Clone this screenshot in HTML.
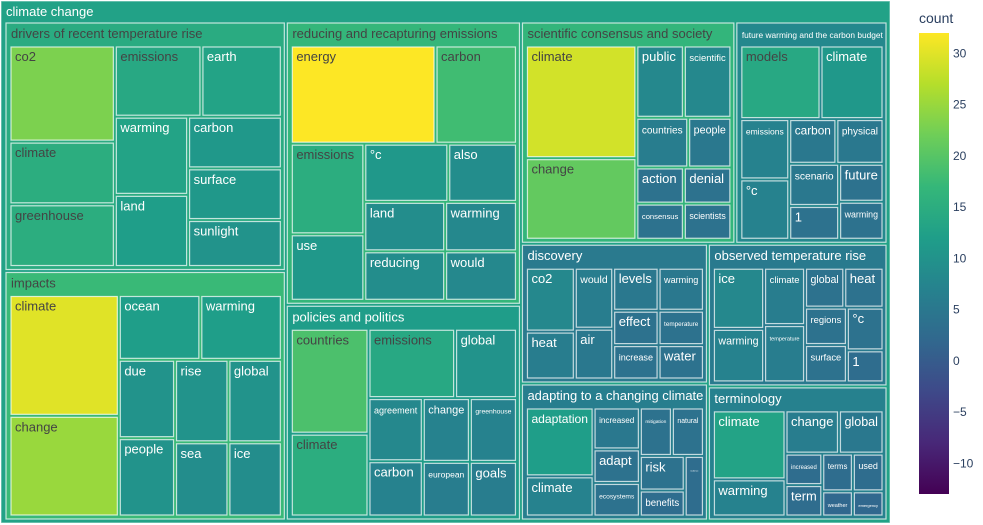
<!DOCTYPE html>
<html>
<head>
<meta charset="utf-8">
<style>
  html,body{margin:0;padding:0;background:#fff;}
  svg{display:block;font-family:"Liberation Sans",sans-serif;}
</style>
</head>
<body>
<svg id="chart" width="983" height="525" viewBox="0 0 983 525">
  <g id="tiles"></g>
  <g id="colorbar"></g>
</svg>
<script>
// ---- data ----
const rootLabel = "climate change";
const sectorLabels = [
  "drivers of recent temperature rise",
  "impacts",
  "reducing and recapturing emissions",
  "policies and politics",
  "scientific consensus and society",
  "future warming and the carbon budget",
  "discovery",
  "adapting to a changing climate",
  "observed temperature rise",
  "terminology"
];
const driversWords = ["co2","climate","greenhouse","emissions","earth","warming","land","carbon","surface","sunlight"];
const driversCounts = [23,15,15,14,13,13,12,11,11,10];
const impactsWords = ["climate","change","ocean","warming","due","people","rise","global","sea","ice"];
const impactsCounts = [30,25,12,12,10,10,10,10,9,9];
const reducingWords = ["energy","carbon","emissions","use","°c","also","land","reducing","warming","would"];
const reducingCounts = [32,18,15,11,11,9,9,9,8,8];
const policiesWords = ["countries","climate","emissions","global","agreement","carbon","change","greenhouse","european","goals"];
const policiesCounts = [19,15,14,10,8,7,7,7,6,6];
const scientificWords = ["climate","change","public","scientific","countries","people","action","consensus","denial","scientists"];
const scientificCounts = [29,21,8,8,6,5,4,4,4,4];
const futureWords = ["models","climate","emissions","°c","carbon","physical","scenario","1","future","warming"];
const futureCounts = [14,11,7,7,5,5,5,4,4,4];
const discoveryWords = ["co2","heat","would","air","levels","warming","effect","increase","temperature","water"];
const discoveryCounts = [8,6,6,5,5,5,4,4,4,4];
const adaptingWords = ["adaptation","climate","increased","adapt","ecosystems","mitigation","natural","risk","benefits","resilience"];
const adaptingCounts = [12,7,5,4,4,4,4,4,3,3];
const observedWords = ["ice","warming","climate","temperature","global","heat","regions","surface","°c","1"];
const observedCounts = [8,7,6,6,4,4,4,4,4,3];
const terminologyWords = ["climate","warming","change","global","increased","term","terms","used","weather","emergency"];
const terminologyCounts = [13,7,6,5,3,3,3,3,2,2];
const colorbarTicks = [30,25,20,15,10,5,0,-5,-10];

const sectorWords = [driversWords,impactsWords,reducingWords,policiesWords,scientificWords,futureWords,discoveryWords,adaptingWords,observedWords,terminologyWords];
const sectorCounts = [driversCounts,impactsCounts,reducingCounts,policiesCounts,scientificCounts,futureCounts,discoveryCounts,adaptingCounts,observedCounts,terminologyCounts];

// ---- scales ----
const cmin = -13, cmax = 32;
const viridis = ["#440154","#482878","#3e4989","#31688e","#26828e","#1f9e89","#35b779","#6ece58","#b5de2b","#fde725"];
function hexRgb(h){return [parseInt(h.slice(1,3),16),parseInt(h.slice(3,5),16),parseInt(h.slice(5,7),16)];}
function colorRgb(v){
  let t=(v-cmin)/(cmax-cmin); t=Math.max(0,Math.min(1,t));
  const s=t*(viridis.length-1); const i=Math.min(Math.floor(s),viridis.length-2); const f=s-i;
  const a=hexRgb(viridis[i]), b=hexRgb(viridis[i+1]);
  return [0,1,2].map(k=>Math.round(a[k]+(b[k]-a[k])*f));
}
function rgbStr(c){return "rgb("+c.join(",")+")";}
function textColor(c){const br=(c[0]*299+c[1]*587+c[2]*114)/1000;return br>=125?"#444":"#fff";}

// ---- build hierarchy ----
const root = {label:rootLabel, depth:0, children:[]};
sectorLabels.forEach((s,i)=>{
  const node={label:s, depth:1, children:[]};
  sectorWords[i].forEach((w,j)=>{ node.children.push({label:w, depth:2, value:sectorCounts[i][j], color:sectorCounts[i][j]}); });
  root.children.push(node);
});
function finalize(n){
  if(n.children){
    n.children.forEach(finalize);
    n.value=n.children.reduce((a,c)=>a+c.value,0);
    n.color=n.children.reduce((a,c)=>a+c.value*c.color,0)/n.value;
    n.children=n.children.map((c,i)=>({c,i})).sort((a,b)=>(b.c.value-a.c.value)||(a.i-b.i)).map(o=>o.c);
  }
}
finalize(root);

// ---- squarified layout (d3 style, ratio 1) ----
function dice(nodes,total,x0,y0,x1,y1){let k=total?(x1-x0)/total:0;for(const n of nodes){n.y0=y0;n.y1=y1;n.x0=x0;n.x1=x0+=n.value*k;}}
function slice(nodes,total,x0,y0,x1,y1){let k=total?(y1-y0)/total:0;for(const n of nodes){n.x0=x0;n.x1=x1;n.y0=y0;n.y1=y0+=n.value*k;}}
function squarify(parent,x0,y0,x1,y1){
  const nodes=parent.children; let value=parent.value, i0=0, i1=0, n=nodes.length;
  while(i0<n){
    const dx=x1-x0, dy=y1-y0;
    let sum=nodes[i1++].value, minV=sum, maxV=sum;
    const alpha=Math.max(dy/dx,dx/dy)/(value*1);
    let beta=sum*sum*alpha, minRatio=Math.max(maxV/beta,beta/minV);
    for(;i1<n;++i1){
      const nv=nodes[i1].value; sum+=nv;
      if(nv<minV)minV=nv; if(nv>maxV)maxV=nv;
      beta=sum*sum*alpha;
      const nr=Math.max(maxV/beta,beta/minV);
      if(nr>minRatio){sum-=nv;break;}
      minRatio=nr;
    }
    const row=nodes.slice(i0,i1);
    if(dx<dy){ const ny=y0+dy*sum/value; dice(row,sum,x0,y0,x1,ny); y0=ny; }
    else { const nx=x0+dx*sum/value; slice(row,sum,x0,y0,nx,y1); x0=nx; }
    value-=sum; i0=i1;
  }
}
const padInner=3, padL=5, padR=4, padB=4;
function padTop(n){return n.depth===0?22:24;}
function position(n){
  if(!n.children)return;
  const p=padInner/2;
  squarify(n, n.x0+padL-p, n.y0+padTop(n)-p, n.x1-(padR-p), n.y1-(padB-p));
  for(const c of n.children){c.x0+=p;c.y0+=p;c.x1-=p;c.y1-=p;position(c);}
}
root.x0=1;root.y0=1;root.x1=890;root.y1=523;
position(root);

// ---- render ----
const NS="http://www.w3.org/2000/svg";
const gTiles=document.getElementById("tiles");
function slug(s){return s.toLowerCase().replace(/°/g,"deg").replace(/[^a-z0-9]+/g,"-").replace(/^-|-$/g,"");}
function fitText(t,maxW,base){
  const w=t.getComputedTextLength();
  if(w>maxW&&w>0){t.setAttribute("font-size",(base*maxW/w).toFixed(2));}
}
function draw(n,parentName){
  const g=document.createElementNS(NS,"g");
  const nm=n.depth===0?"root-tile":(n.depth===1?"sector-"+slug(n.label):parentName+"-"+slug(n.label));
  
  
  const c=colorRgb(n.color);
  const r=document.createElementNS(NS,"rect");
  r.setAttribute("x",n.x0);r.setAttribute("y",n.y0);
  r.setAttribute("width",Math.max(0,n.x1-n.x0));r.setAttribute("height",Math.max(0,n.y1-n.y0));
  r.setAttribute("fill",rgbStr(c));
  r.setAttribute("stroke",n.depth===0?"rgba(255,255,255,0.5)":"rgba(255,255,255,0.72)");
  r.setAttribute("stroke-width","1.2");
  
  
  g.appendChild(r);
  const t=document.createElementNS(NS,"text");
  const fs=13;
  t.setAttribute("x",n.depth===2?n.x0+4:n.x0+5);
  t.setAttribute("y",n.depth===2?n.y0+14:n.y0+15);
  t.setAttribute("font-size",fs);
  t.setAttribute("fill",textColor(c));
  t.textContent=n.label;
  
  
  g.appendChild(t);
  gTiles.appendChild(g);
  fitText(t,(n.x1-n.x0)-8,fs);
  if(n.children)n.children.forEach(ch=>draw(ch,n.depth===1?slug(n.label):"root"));
}
draw(root,"");

// ---- colorbar ----
const gC=document.getElementById("colorbar");
const cbX=919, cbW=30, cbTop=33, cbBot=494;
function yC(v){return cbBot-(v-cmin)/(cmax-cmin)*(cbBot-cbTop);}
const defs=document.createElementNS(NS,"defs");
const lg=document.createElementNS(NS,"linearGradient");
lg.setAttribute("id","vir");lg.setAttribute("x1","0");lg.setAttribute("y1","1");lg.setAttribute("x2","0");lg.setAttribute("y2","0");
viridis.forEach((col,i)=>{const s=document.createElementNS(NS,"stop");s.setAttribute("offset",(i/(viridis.length-1)));s.setAttribute("stop-color",col);lg.appendChild(s);});
defs.appendChild(lg);gC.appendChild(defs);
const cr=document.createElementNS(NS,"rect");
cr.setAttribute("x",cbX);cr.setAttribute("y",cbTop);cr.setAttribute("width",cbW);cr.setAttribute("height",cbBot-cbTop);cr.setAttribute("fill","url(#vir)");


gC.appendChild(cr);
const title=document.createElementNS(NS,"text");
title.setAttribute("x",919);title.setAttribute("y",23);title.setAttribute("font-size",14);title.setAttribute("fill","#2a3f5f");
title.textContent="count";


gC.appendChild(title);
colorbarTicks.forEach(v=>{
  const tt=document.createElementNS(NS,"text");
  tt.setAttribute("x",953);tt.setAttribute("y",yC(v)+4);tt.setAttribute("font-size",12);tt.setAttribute("fill","#2a3f5f");
  tt.textContent=v<0?"\u2212"+Math.abs(v):String(v);
  
  
  gC.appendChild(tt);
});
</script>
</body>
</html>
